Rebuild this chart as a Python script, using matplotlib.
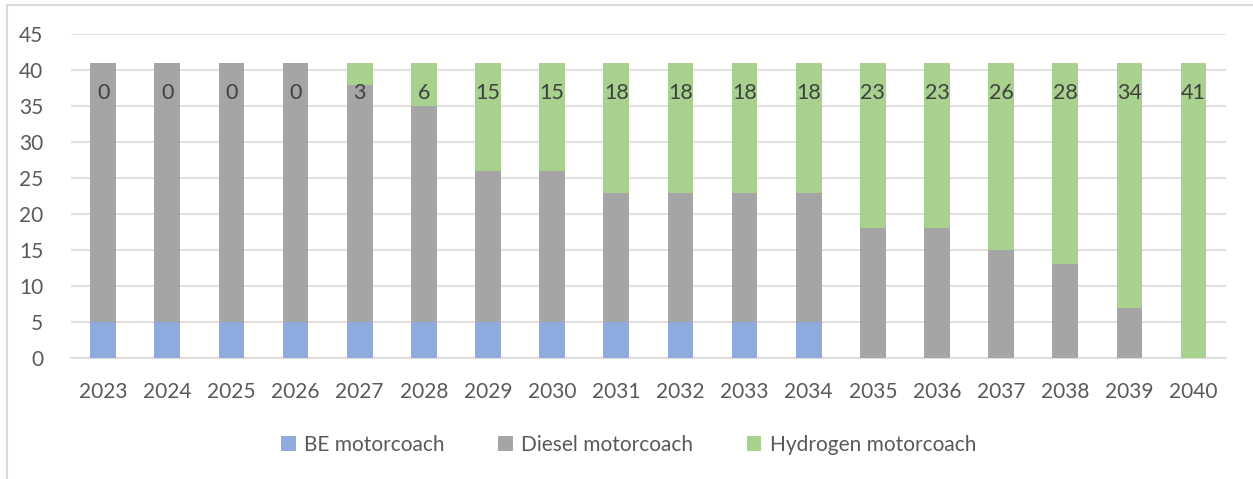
import numpy as np
import matplotlib.pyplot as plt
from matplotlib.lines import Line2D

years = [str(y) for y in range(2023, 2041)]
be = [5, 5, 5, 5, 5, 5, 5, 5, 5, 5, 5, 5, 0, 0, 0, 0, 0, 0]
diesel = [36, 36, 36, 36, 33, 30, 21, 21, 18, 18, 18, 18, 18, 18, 15, 13, 7, 0]
hydrogen = [0, 0, 0, 0, 3, 6, 15, 15, 18, 18, 18, 18, 23, 23, 26, 28, 34, 41]

plt.rcParams['font.family'] = ['Lato', 'DejaVu Sans']

fig = plt.figure(figsize=(12.53, 4.79), dpi=100)
ax = fig.add_axes([0.0567, 0.2526, 0.9215, 0.676])

x = np.arange(len(years))
w = 0.4
be_arr = np.array(be)
di_arr = np.array(diesel)
h_arr = np.array(hydrogen)

ax.bar(x, be_arr, w, color="#8FAADC", label="BE motorcoach", zorder=3)
ax.bar(x, di_arr, w, bottom=be_arr, color="#A5A5A5", label="Diesel motorcoach", zorder=3)
ax.bar(x, h_arr, w, bottom=be_arr + di_arr, color="#A9D18E", label="Hydrogen motorcoach", zorder=3)

tops = be_arr + di_arr + h_arr
for i in range(len(years)):
	ax.annotate(str(hydrogen[i]), (x[i], tops[i]), xytext=(0, -14.5), textcoords="offset points",
		ha="center", va="top", fontsize=15.5, color="#404040", zorder=4)

ax.set_xlim(-0.5, len(years) - 0.5)
ax.set_ylim(0, 45)
ax.set_yticks(range(0, 46, 5))
ax.set_xticks(x)
ax.set_xticklabels(years)
ax.yaxis.grid(True, color="#D9D9D9", linewidth=1.2, zorder=0)
ax.set_axisbelow(True)
for s in ["top", "right", "left"]:
	ax.spines[s].set_visible(False)
ax.spines["bottom"].set_color("#D9D9D9")
ax.spines["bottom"].set_linewidth(1.2)
ax.tick_params(axis="both", length=0, labelsize=15, colors="#595959")
ax.tick_params(axis="x", pad=17)
ax.tick_params(axis="y", pad=20)

ax.legend(loc="upper center", bbox_to_anchor=(0.483, -0.18), ncol=3, frameon=False,
	fontsize=15, handlelength=0.7, handleheight=0.7, handletextpad=0.4, columnspacing=2.57,
	labelcolor="#595959")

# chart border, only left and top visible in the crop
fig.lines.append(Line2D([0.0056, 0.0056], [0.0, 0.99], transform=fig.transFigure,
	color="#D9D9D9", linewidth=1.5))
fig.lines.append(Line2D([0.0056, 1.0], [0.99, 0.99], transform=fig.transFigure,
	color="#D9D9D9", linewidth=1.5))

plt.savefig("out.png", dpi=100)
